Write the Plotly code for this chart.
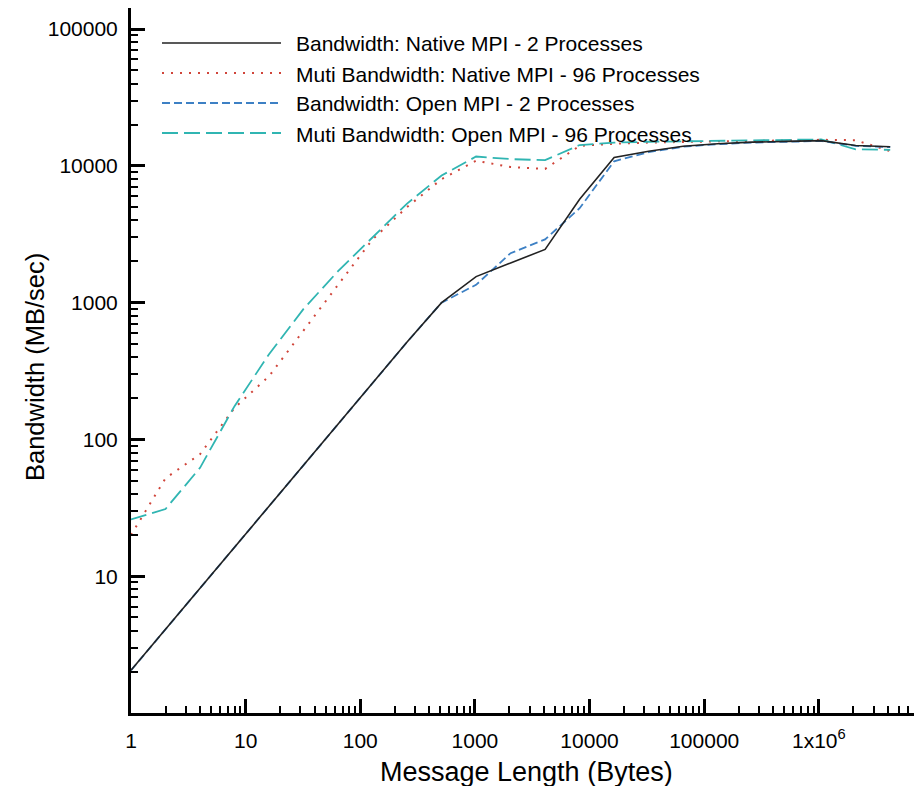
import plotly.graph_objects as go

# Message lengths (bytes): powers of two from 1 to 4 MiB
msg_len = [1, 2, 4, 8, 16, 32, 64, 128, 256, 512, 1024, 2048, 4096, 8192,
           16384, 32768, 65536, 131072, 262144, 524288, 1048576, 2097152, 4194304]

native_2 = [2.05, 4.1, 8.2, 16.4, 32.8, 65, 130, 260, 515, 1000, 1550, 1950, 2450, 5700,
            11500, 12800, 13900, 14500, 14900, 15100, 15300, 14100, 13800]
native_96 = [20, 52, 78, 170, 290, 620, 1350, 2900, 5000, 8000, 10900, 9800, 9500, 14000,
             14500, 14800, 15000, 15100, 15200, 15300, 15500, 15400, 12800]
open_2 = [2.05, 4.1, 8.2, 16.4, 32.8, 65, 130, 260, 515, 1000, 1350, 2300, 2900, 4900,
          10800, 12600, 13800, 14400, 14800, 15000, 15200, 14000, 13700]
open_96 = [26, 31, 62, 175, 420, 900, 1700, 3000, 5300, 8500, 11700, 11200, 11000, 14200,
           14800, 15000, 15100, 15200, 15300, 15400, 15600, 13200, 13100]

series_names = ["Bandwidth: Native MPI - 2 Processes",
                "Muti Bandwidth: Native MPI - 96 Processes",
                "Bandwidth: Open MPI - 2 Processes",
                "Muti Bandwidth: Open MPI - 96 Processes"]

x_tickvals = [1, 10, 100, 1000, 10000, 100000, 1000000]
x_ticktext = ["1", "10", "100", "1000", "10000", "100000", "1x10<sup>6</sup>"]
y_tickvals = [10, 100, 1000, 10000, 100000]
y_ticktext = ["10", "100", "1000", "10000", "100000"]

x_minor = [m * 10 ** k for k in range(0, 7) for m in range(2, 10)]
y_minor = [m * 10 ** k for k in range(0, 5) for m in range(2, 10)]

FONT = "Liberation Sans, Arial, Helvetica, sans-serif"
colors = ["#222222", "#d0453a", "#3d80c4", "#30b5b2"]
dashes = ["solid", "2px,7px", "8px,4px", "16px,6px"]
widths = [1.6, 2.0, 1.8, 1.8]
data = [native_2, native_96, open_2, open_96]

fig = go.Figure()
order = [1, 3, 2, 0]
for i in order:
    fig.add_trace(go.Scatter(x=msg_len, y=data[i], mode="lines", name=series_names[i],
                             line=dict(color=colors[i], dash=dashes[i], width=widths[i]),
                             showlegend=False))

# The page body adds an 8px offset; positions below are in page pixels.
OFF = 8
plot_l, plot_r, plot_t, plot_b = 131, 922, 8, 713
def px(xp):
    return (xp - plot_l) / (plot_r - plot_l)
def py(yp):
    return (plot_b - yp) / (plot_b - plot_t)

# manual legend (long sample lines like the original)
rows = [43, 73, 103, 133]
for i, yr in enumerate(rows):
    fig.add_shape(type="line", xref="paper", yref="paper",
                  x0=px(162), x1=px(281), y0=py(yr), y1=py(yr),
                  line=dict(color=colors[i], dash=dashes[i], width=widths[i]))
    fig.add_annotation(xref="paper", yref="paper", x=px(294), y=py(yr + 1),
                       text=series_names[i], showarrow=False, xanchor="left", yanchor="middle",
                       font=dict(family=FONT, size=21, color="black"))

# axis titles
fig.add_annotation(xref="paper", yref="paper", x=px(526), y=py(772),
                   text="Message Length (Bytes)", showarrow=False,
                   xanchor="center", yanchor="middle",
                   font=dict(family=FONT, size=27, color="black"))
fig.add_annotation(xref="paper", yref="paper", x=px(35), y=py(367),
                   text="Bandwidth (MB/sec)", showarrow=False, textangle=-90,
                   xanchor="center", yanchor="middle",
                   font=dict(family=FONT, size=25.5, color="black"))

axis_common = dict(
    type="log", showgrid=False, zeroline=False, automargin=False,
    showline=True, linecolor="black", linewidth=3,
    ticks="inside", ticklen=14, tickwidth=2.5, tickcolor="black",
    tickfont=dict(family=FONT, size=21, color="black"),
)

fig.update_xaxes(**axis_common, range=[0, 6.9], tickvals=x_tickvals, ticktext=x_ticktext,
                 mirror=True, ticklabelstandoff=7,
                 minor=dict(tickvals=x_minor, ticks="inside", ticklen=7, tickwidth=1.5,
                            tickcolor="black", showgrid=False))
fig.update_yaxes(**axis_common, range=[0, 5.154], tickvals=y_tickvals, ticktext=y_ticktext,
                 ticklabelstandoff=6,
                 minor=dict(tickvals=y_minor, ticks="inside", ticklen=7, tickwidth=1.5,
                            tickcolor="black", showgrid=False))

fig.update_layout(width=922 - OFF, height=786 - OFF,
                  margin=dict(l=plot_l - OFF, r=0, t=plot_t - OFF, b=786 - plot_b),
                  paper_bgcolor="white", plot_bgcolor="white",
                  font=dict(family=FONT, color="black"))

fig.write_html("out.html")
